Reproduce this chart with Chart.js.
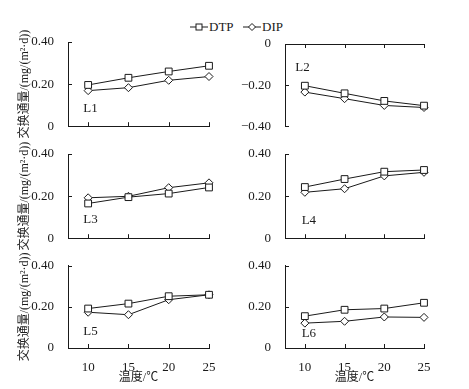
<!DOCTYPE html>
<html>
<head>
<meta charset="utf-8">
<script src="https://cdn.jsdelivr.net/npm/chart.js@4/dist/chart.umd.min.js"></script>
<style>
  body { margin: 0; background: #fff; }
  #fig { position: relative; width: 469px; height: 389px; overflow: hidden; }
  #fig canvas { position: absolute; }
  .leg { position: absolute; top: 19px; font: 13px "Liberation Serif", serif; color: #1a1a1a; display: flex; align-items: center; height: 16px; }
  .leg svg { margin-right: 1px; }
</style>
</head>
<body>
<div id="fig">
  <div class="leg" style="left:190px">
    <svg width="18" height="10"><line x1="0" y1="5" x2="18" y2="5" stroke="#1a1a1a"/><rect x="6" y="2" width="6" height="6" fill="#fff" stroke="#1a1a1a"/></svg>DTP
  </div>
  <div class="leg" style="left:243px">
    <svg width="18" height="10"><line x1="0" y1="5" x2="18" y2="5" stroke="#1a1a1a"/><polygon points="9,1.5 12.5,5 9,8.5 5.5,5" fill="#fff" stroke="#1a1a1a"/></svg>DIP
  </div>
</div>
<script>
// data
const temps = [10, 15, 20, 25];
const panelNames = ['L1', 'L2', 'L3', 'L4', 'L5', 'L6'];

const l1Dtp = [0.196, 0.230, 0.260, 0.287];
const l1Dip = [0.169, 0.183, 0.218, 0.236];
const l2Dtp = [-0.203, -0.240, -0.277, -0.300];
const l2Dip = [-0.234, -0.266, -0.299, -0.309];
const l3Dtp = [0.165, 0.195, 0.212, 0.241];
const l3Dip = [0.192, 0.199, 0.240, 0.263];
const l4Dtp = [0.243, 0.281, 0.316, 0.324];
const l4Dip = [0.218, 0.235, 0.296, 0.313];
const l5Dtp = [0.192, 0.216, 0.252, 0.259];
const l5Dip = [0.174, 0.162, 0.235, 0.259];
const l6Dtp = [0.155, 0.186, 0.192, 0.220];
const l6Dip = [0.121, 0.130, 0.151, 0.149];

const posTicks = [0, 0.2, 0.4];
const negTicks = [-0.4, -0.2, 0];

const yTitle = '交换通量/(mg/(m²·d))';
const xTitle = '温度/℃';

const ink = '#1a1a1a';
const serif = '"Liberation Serif", "Noto Sans CJK SC", serif';

// inward tick marks + panel label
const innerTicks = {
  id: 'innerTicks',
  afterDraw(chart, args, opts) {
    const { ctx, chartArea, scales: { x, y } } = chart;
    ctx.save();
    ctx.strokeStyle = ink;
    ctx.lineWidth = 1;
    ctx.beginPath();
    y.ticks.forEach(t => {
      const py = Math.round(y.getPixelForValue(t.value)) + 0.5;
      ctx.moveTo(chartArea.left, py);
      ctx.lineTo(chartArea.left + 4, py);
    });
    const atTop = x.options.position === 'top';
    const yb = atTop ? chartArea.top : chartArea.bottom;
    x.ticks.forEach(t => {
      const px = Math.round(x.getPixelForValue(t.value)) + 0.5;
      ctx.moveTo(px, yb);
      ctx.lineTo(px, atTop ? yb + 4 : yb - 4);
    });
    ctx.stroke();
    ctx.fillStyle = ink;
    ctx.font = '13px ' + serif;
    ctx.textBaseline = 'middle';
    ctx.fillText(opts.label, x.getPixelForValue(opts.at[0]), y.getPixelForValue(opts.at[1]));
    ctx.restore();
  }
};

const cols = [
  { left: 0, width: 234, yW: 68, padR: 25 },
  { left: 234, width: 235, yW: 51, padR: 45 }
];
const rows = [
  { top: 0, height: 140, padT: 42, padB: 0, xH: 10 },
  { top: 140, height: 112, padT: 14, padB: 0, xH: 10 },
  { top: 252, height: 137, padT: 8, padB: 0, xH: 41 }
];

const panels = [
  { dtp: l1Dtp, dip: l1Dip, row: 0, col: 0, ticks: posTicks, at: [9.4, 0.082] },
  { dtp: l2Dtp, dip: l2Dip, row: 0, col: 1, ticks: negTicks, at: [8.8, -0.114], xTop: true },
  { dtp: l3Dtp, dip: l3Dip, row: 1, col: 0, ticks: posTicks, at: [9.4, 0.088] },
  { dtp: l4Dtp, dip: l4Dip, row: 1, col: 1, ticks: posTicks, at: [9.6, 0.085] },
  { dtp: l5Dtp, dip: l5Dip, row: 2, col: 0, ticks: posTicks, at: [9.4, 0.080] },
  { dtp: l6Dtp, dip: l6Dip, row: 2, col: 1, ticks: posTicks, at: [9.6, 0.072] }
];

const fig = document.getElementById('fig');

panels.forEach((p, i) => {
  const c = cols[p.col], r = rows[p.row];
  const canvas = document.createElement('canvas');
  canvas.width = c.width;
  canvas.height = r.height;
  canvas.style.left = c.left + 'px';
  canvas.style.top = r.top + 'px';
  fig.appendChild(canvas);

  const bottomRow = p.row === 2;
  let padT = r.padT, padB = r.padB;
  if (p.xTop) { padT = 34; padB = 8; }

  const series = (vals) => temps.map((t, k) => ({ x: t, y: vals[k] }));

  new Chart(canvas, {
    type: 'line',
    data: {
      datasets: [
        {
          label: 'DTP', data: series(p.dtp),
          borderColor: ink, borderWidth: 1, tension: 0,
          pointStyle: 'rect', pointRadius: 4.8,
          pointBackgroundColor: '#fff', pointBorderColor: ink, pointBorderWidth: 1,
          clip: false
        },
        {
          label: 'DIP', data: series(p.dip),
          borderColor: ink, borderWidth: 1, tension: 0,
          pointStyle: 'rectRot', pointRadius: 4,
          pointBackgroundColor: '#fff', pointBorderColor: ink, pointBorderWidth: 1,
          clip: false
        }
      ]
    },
    options: {
      responsive: false,
      animation: false,
      layout: { padding: { left: 0, right: c.padR, top: padT, bottom: padB } },
      plugins: {
        legend: { display: false },
        tooltip: { enabled: false },
        innerTicks: { label: panelNames[i], at: p.at }
      },
      scales: {
        x: {
          type: 'linear',
          position: p.xTop ? 'top' : 'bottom',
          min: 7.5, max: 25,
          afterBuildTicks: s => { s.ticks = temps.map(v => ({ value: v })); },
          afterFit: s => { s.height = r.xH; },
          grid: { display: false },
          border: { display: true, color: ink, width: 1 },
          ticks: {
            display: bottomRow,
            padding: 4,
            color: ink,
            font: { family: serif, size: 13 },
            callback: v => String(v)
          },
          title: {
            display: bottomRow,
            text: xTitle,
            color: ink,
            font: { family: serif, size: 12 },
            padding: { top: 0, bottom: 4 }
          }
        },
        y: {
          min: p.ticks[0], max: p.ticks[p.ticks.length - 1],
          afterBuildTicks: s => { s.ticks = p.ticks.map(v => ({ value: v })); },
          afterFit: s => { s.width = c.yW; },
          grid: { display: false },
          border: { display: true, color: ink, width: 1 },
          ticks: {
            padding: 6,
            color: ink,
            font: { family: serif, size: 13 },
            callback: v => v === 0 ? '0' : v.toFixed(2).replace('-', '−')
          },
          title: {
            display: p.col === 0,
            text: yTitle,
            color: ink,
            font: { family: serif, size: 12 },
            padding: { top: 18, bottom: 0 }
          }
        }
      }
    },
    plugins: [innerTicks]
  });
});
</script>
</body>
</html>
